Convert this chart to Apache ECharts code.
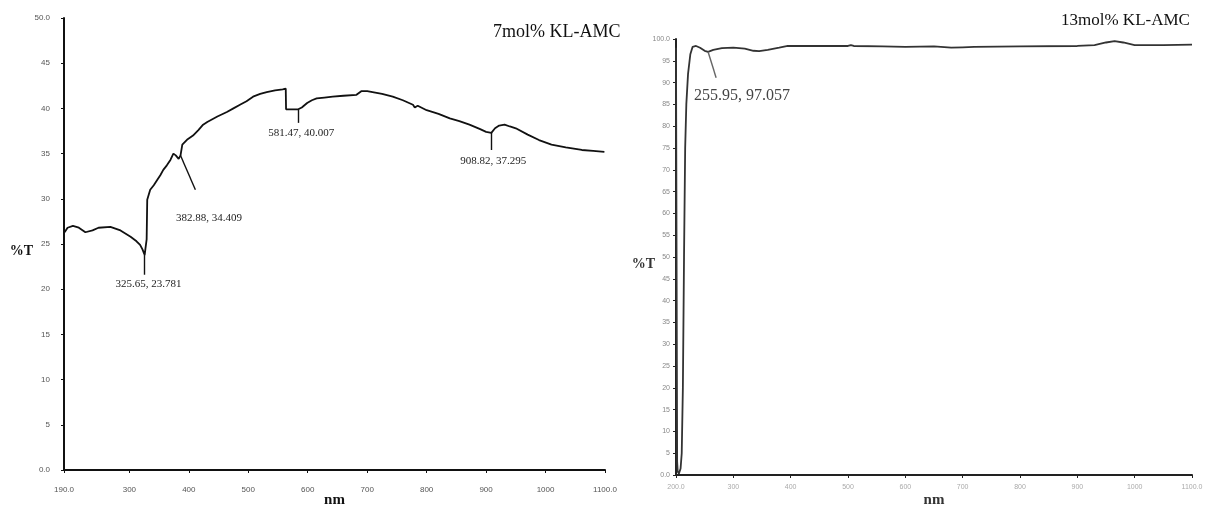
<!DOCTYPE html>
<html>
<head>
<meta charset="utf-8">
<script src="https://cdn.jsdelivr.net/npm/echarts@6/dist/echarts.min.js"></script>
<style>
html,body{margin:0;padding:0;background:#fff;}
#c{width:1207px;height:508px;}
</style>
</head>
<body>
<div id="c"></div>
<script>
// ---- Left panel: 7mol% KL-AMC ----
const nm7 = [191,196,205,215,226,238,248,268,285,302,312,318,322,325.65,327,329,330,335,341,347,352,357,363,369,374,378,382.88,386,388,389,398,407,416,424,431,448,464,475,486,497,508,520,531,545,558,563,563.5,575,584,590,599,607,615,628,642,660,682,690,700,709,725,743,760,777,780,785,800,820,839,855,872,890,900,908.82,915,922,931,940,950,970,989,1010,1034,1061,1080,1099];
const T7  = [26.3,26.8,27.0,26.8,26.3,26.5,26.8,26.9,26.5,25.8,25.3,24.9,24.4,23.78,24.5,25.5,29.9,31.0,31.5,32.1,32.6,33.2,33.7,34.3,35.0,34.8,34.41,34.8,35.0,36.0,36.6,37.0,37.6,38.2,38.5,39.1,39.6,40.0,40.4,40.8,41.3,41.6,41.8,42.0,42.1,42.2,39.9,39.9,39.9,40.1,40.6,40.9,41.1,41.2,41.3,41.4,41.5,41.9,41.9,41.8,41.6,41.3,40.9,40.4,40.1,40.3,39.8,39.4,38.9,38.6,38.2,37.7,37.4,37.3,37.8,38.1,38.2,38.0,37.8,37.1,36.5,36.0,35.7,35.4,35.3,35.2];
const xTicks7 = [190,300,400,500,600,700,800,900,1000,1100];
// annotations: [peak x, peak y, line end x, line end y, label x, label y, text]
const ann7 = [
  [325.65, 23.78, 325.65, 21.6, 332, 20.6, '325.65, 23.781'],
  [386, 34.8, 411, 31.0, 434, 27.9, '382.88, 34.409'],
  [584, 39.9, 584, 38.4, 589, 37.3, '581.47, 40.007'],
  [908.82, 37.3, 908.82, 35.4, 912, 34.2, '908.82, 37.295']
];

// ---- Right panel: 13mol% KL-AMC ----
const nm13 = [200,201,202,203,205,208,210,212,214,216,218,221,225,229,235,242,250,255.95,265,280,300,320,335,345,360,380,395,450,500,505,510,560,600,650,680,700,720,800,900,930,950,965,980,1000,1050,1100];
const T13  = [98.0,50,3,0.8,0.3,1.5,5,20,50,75,85,92,96.5,98.2,98.4,98.0,97.3,97.06,97.5,97.9,98.0,97.8,97.3,97.2,97.5,98.0,98.4,98.4,98.4,98.6,98.4,98.3,98.2,98.3,98.0,98.1,98.2,98.3,98.4,98.6,99.2,99.5,99.2,98.6,98.6,98.7];
const ann13 = [
  [255.95, 97.06, 270, 91.1, 315, 87.0, '255.95, 97.057']
];

const serif = '"Liberation Serif","DejaVu Serif",serif';
const sans = '"Liberation Sans","DejaVu Sans",sans-serif';

function pairs(xs, ys){ return xs.map((x,i)=>[x, ys[i]]); }
function mlines(a){ return a.map(r=>[{coord:[r[0],r[1]]},{coord:[r[2],r[3]]}]); }
function mpoints(a){ return a.map(r=>({coord:[r[4],r[5]], name:r[6]})); }

const chart = echarts.init(document.getElementById('c'), null, {renderer:'canvas'});
chart.setOption({
  animation:false,
  backgroundColor:'#ffffff',
  title:[
    {text:'7mol% KL-AMC', left:488, top:18, textStyle:{fontFamily:serif, fontSize:18, fontWeight:'normal', color:'#111'}},
    {text:'13mol% KL-AMC', left:1056, top:7, textStyle:{fontFamily:serif, fontSize:17, fontWeight:'normal', color:'#111'}}
  ],
  grid:[
    {left:64, top:18, width:541, height:452, containLabel:false, outerBoundsMode:'none'},
    {left:676, top:39, width:516, height:436, containLabel:false, outerBoundsMode:'none'}
  ],
  xAxis:[
    {type:'value', gridIndex:0, min:190, max:1100,
     name:'nm', nameLocation:'middle', nameGap:30, nameMoveOverlap:false,
     nameTextStyle:{fontFamily:serif, fontSize:15, fontWeight:'bold', color:'#111', verticalAlign:'middle'},
     axisLine:{show:true, lineStyle:{color:'#111', width:2}},
     axisTick:{show:true, length:3, customValues:xTicks7, lineStyle:{color:'#111'}},
     axisLabel:{customValues:xTicks7, margin:16, fontFamily:sans, fontSize:8, color:'#555',
       formatter:v=> (v===190||v===1100) ? v.toFixed(1) : String(v)},
     splitLine:{show:false}},
    {type:'value', gridIndex:1, min:200, max:1100, interval:100,
     name:'nm', nameLocation:'middle', nameGap:25, nameMoveOverlap:false,
     nameTextStyle:{fontFamily:serif, fontSize:15, fontWeight:'bold', color:'#333', verticalAlign:'middle'},
     axisLine:{show:true, lineStyle:{color:'#222', width:2}},
     axisTick:{show:true, length:3, lineStyle:{color:'#222'}},
     axisLabel:{margin:9, fontFamily:sans, fontSize:7, color:'#aaa', showMinLabel:true, showMaxLabel:true,
       formatter:v=> (v===200||v===1100) ? v.toFixed(1) : String(v)},
     splitLine:{show:false}}
  ],
  yAxis:[
    {type:'value', gridIndex:0, min:0, max:50, interval:5,
     name:'%T', nameLocation:'middle', nameRotate:0, nameGap:31, nameMoveOverlap:false,
     nameTextStyle:{fontFamily:serif, fontSize:14, fontWeight:'bold', color:'#111', verticalAlign:'top'},
     axisLine:{show:true, lineStyle:{color:'#111', width:2}},
     axisTick:{show:true, length:3, lineStyle:{color:'#111'}},
     axisLabel:{margin:14, fontFamily:sans, fontSize:8, color:'#555',
       formatter:v=> (v===0||v===50) ? v.toFixed(1) : String(v)},
     splitLine:{show:false}},
    {type:'value', gridIndex:1, min:0, max:100, interval:5,
     name:'%T', nameLocation:'middle', nameRotate:0, nameGap:21, nameMoveOverlap:false,
     nameTextStyle:{fontFamily:serif, fontSize:14, fontWeight:'bold', color:'#333', verticalAlign:'top'},
     axisLine:{show:true, lineStyle:{color:'#222', width:2}},
     axisTick:{show:true, length:3, inside:false, lineStyle:{color:'#222'}},
     axisLabel:{margin:6, fontFamily:sans, fontSize:7, color:'#888',
       formatter:v=> (v===0||v===100) ? v.toFixed(1) : String(v)},
     splitLine:{show:false}}
  ],
  series:[
    {type:'line', xAxisIndex:0, yAxisIndex:0, data:pairs(nm7,T7), showSymbol:false, symbol:'none',
     lineStyle:{color:'#111', width:1.8},
     markLine:{silent:true, symbol:'none', label:{show:false}, lineStyle:{color:'#111', width:1.4, type:'solid'}, data:mlines(ann7)},
     markPoint:{silent:true, symbol:'circle', symbolSize:1, itemStyle:{color:'rgba(0,0,0,0)'},
       label:{show:true, position:'inside', formatter:p=>p.name, fontFamily:serif, fontSize:11, color:'#222'},
       data:mpoints(ann7)}},
    {type:'line', xAxisIndex:1, yAxisIndex:1, data:pairs(nm13,T13), showSymbol:false, symbol:'none',
     lineStyle:{color:'#333', width:1.8},
     markLine:{silent:true, symbol:'none', label:{show:false}, lineStyle:{color:'#666', width:1.4, type:'solid'}, data:mlines(ann13)},
     markPoint:{silent:true, symbol:'circle', symbolSize:1, itemStyle:{color:'rgba(0,0,0,0)'},
       label:{show:true, position:'inside', formatter:p=>p.name, fontFamily:serif, fontSize:16, color:'#444'},
       data:mpoints(ann13)}}
  ]
});
</script>
</body>
</html>
